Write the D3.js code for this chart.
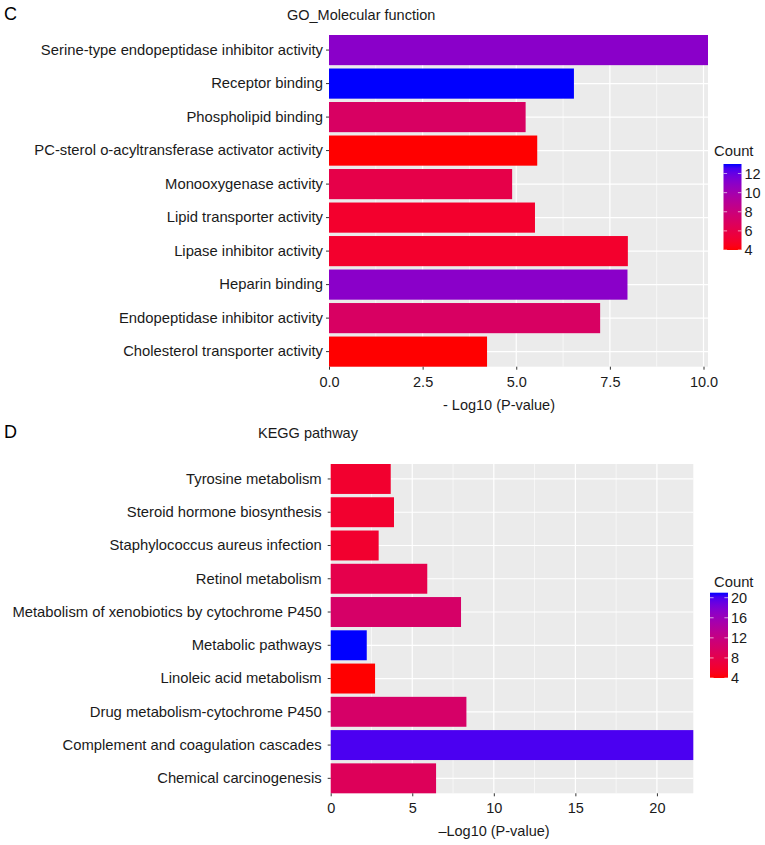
<!DOCTYPE html>
<html><head><meta charset="utf-8">
<script src="https://cdn.jsdelivr.net/npm/d3@7"></script>
<style>
body{margin:0;background:#fff}
text{font-family:"Liberation Sans",Arial,Helvetica,sans-serif}
</style>
</head><body>
<svg id="c" width="765" height="845"></svg>
<script>
// ---------- DATA ----------
const goTerms = [
  "Serine-type endopeptidase inhibitor activity",
  "Receptor binding",
  "Phospholipid binding",
  "PC-sterol o-acyltransferase activator activity",
  "Monooxygenase activity",
  "Lipid transporter activity",
  "Lipase inhibitor activity",
  "Heparin binding",
  "Endopeptidase inhibitor activity",
  "Cholesterol transporter activity"
];
const goLogP  = [10.12, 6.54, 5.25, 5.56, 4.89, 5.50, 7.98, 7.97, 7.24, 4.22];
const goCount = [11, 13, 7, 4, 6, 5, 5, 11, 7, 4];
const goCountLimits = [4, 13];
const goTicks = [0, 2.5, 5, 7.5, 10];
const goTickLabels = ["0.0", "2.5", "5.0", "7.5", "10.0"];
const goMinorTicks = [1.25, 3.75, 6.25, 8.75];
const goLegendTicks = [4, 6, 8, 10, 12];

const keggTerms = [
  "Tyrosine metabolism",
  "Steroid hormone biosynthesis",
  "Staphylococcus aureus infection",
  "Retinol metabolism",
  "Metabolism of xenobiotics by cytochrome P450",
  "Metabolic pathways",
  "Linoleic acid metabolism",
  "Drug metabolism-cytochrome P450",
  "Complement and coagulation cascades",
  "Chemical carcinogenesis"
];
const keggLogP  = [3.68, 3.88, 2.94, 5.92, 7.99, 2.21, 2.72, 8.32, 22.23, 6.46];
const keggCount = [6, 6, 6, 8, 10, 21, 4, 10, 20, 9];
const keggCountLimits = [4, 21];
const keggTicks = [0, 5, 10, 15, 20];
const keggTickLabels = ["0", "5", "10", "15", "20"];
const keggMinorTicks = [2.5, 7.5, 12.5, 17.5];
const keggLegendTicks = [4, 8, 12, 16, 20];

// ---------- DRAW ----------
const svg = d3.select("#c");
const FS = 14.5;
const FSY = 14.8;
const TXT = "#1a1a1a";

function panel(cfg) {
  const g = svg.append("g");
  const x = d3.scaleLinear().domain([0, d3.max(cfg.values)]).range([cfg.left, cfg.right]);
  const y = d3.scaleBand().domain(cfg.terms).range([cfg.top, cfg.bottom]).paddingInner(0.1).paddingOuter(0);
  const col = d3.scaleLinear().domain(cfg.limits).range(["#ff0000", "#0000ff"]).interpolate(d3.interpolateLab);

  g.append("rect").attr("x", cfg.left).attr("y", cfg.top)
    .attr("width", cfg.right - cfg.left).attr("height", cfg.bottom - cfg.top).attr("fill", "#ebebeb");
  g.selectAll(".mg").data(cfg.minor).join("line")
    .attr("x1", d => x(d)).attr("x2", d => x(d)).attr("y1", cfg.top).attr("y2", cfg.bottom)
    .attr("stroke", "#fff").attr("stroke-width", 0.6);
  g.selectAll(".Mg").data(cfg.ticks).join("line")
    .attr("x1", d => x(d)).attr("x2", d => x(d)).attr("y1", cfg.top).attr("y2", cfg.bottom)
    .attr("stroke", "#fff").attr("stroke-width", 1.2);
  g.selectAll(".hg").data(cfg.terms).join("line")
    .attr("x1", cfg.left).attr("x2", cfg.right)
    .attr("y1", d => y(d) + y.bandwidth() / 2).attr("y2", d => y(d) + y.bandwidth() / 2)
    .attr("stroke", "#fff").attr("stroke-width", 1.2);
  g.selectAll(".bar").data(cfg.terms).join("rect")
    .attr("x", x(0)).attr("y", d => y(d))
    .attr("width", (d, i) => x(cfg.values[i]) - x(0))
    .attr("height", y.bandwidth())
    .attr("fill", (d, i) => col(cfg.counts[i]));

  const xa = g.append("g").attr("transform", `translate(0,${cfg.bottom})`)
    .call(d3.axisBottom(x).tickValues(cfg.ticks).tickFormat((d, i) => cfg.tickLabels[i]).tickSize(3).tickPadding(4));
  xa.select(".domain").remove();
  xa.selectAll(".tick line").attr("stroke", "#333");
  xa.selectAll(".tick text").attr("font-size", FS).attr("fill", TXT).attr("font-family", null).attr("dy", "0.9em");
  const ya = g.append("g").attr("transform", `translate(${cfg.left},0)`)
    .call(d3.axisLeft(y).tickSize(3).tickPadding(cfg.labelPad));
  ya.select(".domain").remove();
  ya.selectAll(".tick line").attr("stroke", "#333");
  ya.selectAll(".tick text").attr("font-size", FSY).attr("fill", TXT).attr("font-family", null);

  g.append("text").attr("x", cfg.xTitleX).attr("y", cfg.xTitleY).attr("text-anchor", "middle")
    .attr("font-size", FS).attr("fill", TXT).text(cfg.xTitle);
  g.append("text").attr("x", cfg.titleX).attr("y", cfg.titleY)
    .attr("font-size", FS).attr("fill", TXT).text(cfg.title);
  g.append("text").attr("x", 4).attr("y", cfg.letterY)
    .attr("font-size", 18).attr("fill", "#000").text(cfg.letter);

  const L = cfg.legend;
  const gid = "grad" + cfg.letter;
  const grad = svg.append("defs").append("linearGradient").attr("id", gid)
    .attr("x1", 0).attr("y1", 1).attr("x2", 0).attr("y2", 0);
  d3.range(0, 1.0001, 0.05).forEach(t => {
    grad.append("stop").attr("offset", t).attr("stop-color", col(cfg.limits[0] + t * (cfg.limits[1] - cfg.limits[0])));
  });
  g.append("text").attr("x", L.titleX).attr("y", L.titleY).attr("font-size", FSY).attr("fill", TXT).text("Count");
  g.append("rect").attr("x", L.x).attr("y", L.y).attr("width", L.w).attr("height", L.h).attr("fill", `url(#${gid})`);
  const ly = d3.scaleLinear().domain(cfg.limits).range([L.y + L.h, L.y]);
  cfg.legendTicks.forEach(v => {
    g.append("line").attr("x1", L.x).attr("x2", L.x + L.w / 5).attr("y1", ly(v)).attr("y2", ly(v))
      .attr("stroke", "#fff").attr("stroke-width", 0.8).attr("opacity", 0.8);
    g.append("line").attr("x1", L.x + L.w * 4 / 5).attr("x2", L.x + L.w).attr("y1", ly(v)).attr("y2", ly(v))
      .attr("stroke", "#fff").attr("stroke-width", 0.8).attr("opacity", 0.8);
    g.append("text").attr("x", L.x + L.w + 3).attr("y", ly(v)).attr("dy", "0.36em")
      .attr("font-size", FS).attr("fill", TXT).text(v);
  });
}

panel({
  terms: goTerms, values: goLogP, counts: goCount, limits: goCountLimits,
  ticks: goTicks, tickLabels: goTickLabels, minor: goMinorTicks, legendTicks: goLegendTicks,
  left: 329, right: 708, top: 35, bottom: 366.7, labelPad: 3,
  xTitle: "- Log10 (P-value)", xTitleX: 499, xTitleY: 410,
  title: "GO_Molecular function", titleX: 287, titleY: 20,
  letter: "C", letterY: 20,
  legend: {titleX: 714, titleY: 156, x: 723.5, y: 164, w: 18, h: 86}
});

panel({
  terms: keggTerms, values: keggLogP, counts: keggCount, limits: keggCountLimits,
  ticks: keggTicks, tickLabels: keggTickLabels, minor: keggMinorTicks, legendTicks: keggLegendTicks,
  left: 330.7, right: 693.3, top: 464, bottom: 793.3, labelPad: 6,
  xTitle: "\u2013Log10 (P-value)", xTitleX: 494, xTitleY: 836,
  title: "KEGG pathway", titleX: 258, titleY: 438,
  letter: "D", letterY: 438,
  legend: {titleX: 714, titleY: 586.5, x: 710, y: 592.7, w: 18, h: 85.3}
});
</script>
</body></html>
